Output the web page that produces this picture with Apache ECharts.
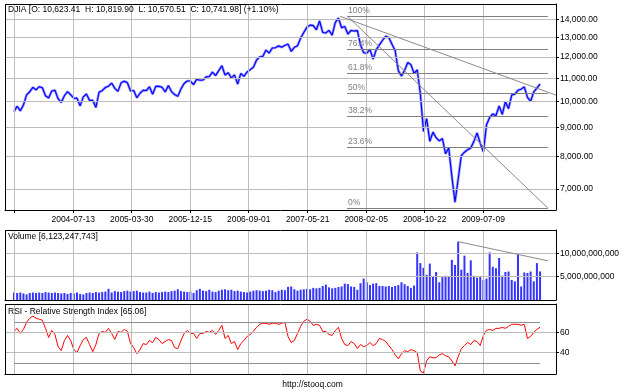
<!DOCTYPE html>
<html>
<head>
<meta charset="utf-8">
<script src="https://cdn.jsdelivr.net/npm/echarts@6/dist/echarts.min.js"></script>
<style>
  html, body { margin: 0; padding: 0; background: #fff; }
  #chart { width: 625px; height: 391px; }
</style>
</head>
<body>
<div id="chart"></div>
<script>
// DJIA weekly, one sample every two weeks from 2003-10-24
const startDate = '2003-10-24'
const stepDays = 14

const closes = [
  9600, 9809, 9629, 9862, 10278, 10409, 10600, 10488, 10628, 10584,
  10240, 10150, 10442, 10472, 10118, 9966, 10242, 10416, 10282, 10139,
  10140, 9825, 10195, 10314, 10047, 10055, 9758, 10388, 10456, 10592,
  10650, 10783, 10558, 10427, 10796, 10870, 10800, 10442, 10461, 10158,
  10345, 10471, 10460, 10623, 10303, 10640, 10641, 10600, 10397, 10679,
  10419, 10292, 10215, 10530, 10766, 10877, 10876, 10718, 10960, 10908,
  10919, 11061, 11077, 11280, 11120, 11347, 11578, 11144, 11248, 11015,
  11150, 10739, 11219, 11088, 11284, 11392, 11508, 11850, 12002, 12031,
  12342, 12194, 12445, 12463, 12556, 12487, 12581, 12647, 12277, 12481,
  12560, 12962, 13264, 13556, 13668, 13639, 13409, 13908, 13266, 13240,
  13379, 13114, 13821, 14067, 13522, 13596, 13177, 13372, 13340, 13366,
  12606, 12207, 12183, 12382, 11894, 12361, 12610, 12849, 13058, 12986,
  12638, 12307, 11347, 11100, 11370, 11734, 11628, 11220, 11388, 10325,
  8852, 9325, 8497, 8829, 8629, 8515, 8599, 8077, 8280, 7365,
  6627, 7279, 8017, 8131, 8212, 8268, 8500, 8799, 8438, 8146,
  9093, 9370, 9505, 9441, 9820, 9488, 9996, 9713, 10270, 10310,
  10471, 10520, 10618, 10173, 10013, 10403, 10567, 10742
]

// volume in billions of shares
const volumeBn = [
  1.6, 1.5, 1.6, 1.4, 1.2, 1.5, 1.6, 1.5, 1.6, 1.5,
  1.7, 1.6, 1.5, 1.6, 1.5, 1.4, 1.5, 1.3, 1.5, 1.4,
  1.6, 1.3, 1.2, 1.5, 1.6, 1.5, 1.7, 1.6, 1.7, 1.8,
  2.4, 1.6, 1.9, 1.8, 1.7, 1.9, 2.0, 1.8, 1.9, 2.0,
  1.7, 1.6, 1.6, 1.8, 1.5, 1.7, 1.6, 1.7, 1.8, 1.7,
  1.9, 2.0, 2.3, 1.9, 1.8, 1.7, 1.8, 1.5, 2.1, 2.4,
  2.0, 1.9, 2.2, 1.8, 1.7, 2.0, 2.2, 2.3, 2.1, 2.2,
  1.9, 2.0, 1.8, 1.7, 1.6, 1.8, 2.0, 2.1, 2.0, 1.9,
  2.0, 2.2, 2.1, 1.7, 2.0, 2.2, 2.1, 2.8, 2.9, 2.3,
  2.0, 2.2, 2.3, 2.4, 2.3, 2.6, 2.5, 2.6, 3.0, 3.3,
  2.7, 2.5, 2.6, 2.8, 2.9, 3.5, 3.4, 2.9, 2.8, 2.2,
  3.6, 4.6, 3.8, 3.2, 3.5, 3.6, 3.0, 3.0, 2.9, 3.0,
  2.8, 3.0, 3.2, 3.8, 3.4, 3.0, 2.6, 3.1, 10.2, 7.9,
  6.9, 5.4, 7.8, 5.0, 6.0, 3.8, 4.9, 5.2, 5.1, 8.6,
  7.5, 12.5, 6.5, 9.5, 5.8, 8.5, 5.2, 4.8, 5.0, 4.3,
  4.6, 10.2, 7.1, 6.8, 9.0, 5.2, 6.0, 6.1, 4.3, 4.0,
  9.8, 2.9, 5.9, 5.8, 6.1, 4.0, 7.9, 6.12
]

const rsi = [
  61, 64, 59, 63, 70, 74, 76, 74, 73, 72,
  64, 55, 62, 58, 46, 42, 52, 57, 52, 43,
  40, 47, 53, 55, 48, 41, 48, 59, 61, 60,
  64, 59, 53, 61, 60, 63, 61, 49, 45, 39,
  43, 49, 48, 52, 50, 55, 53, 49, 51, 53,
  52, 45, 44, 52, 59, 62, 59, 59, 54, 59,
  59, 61, 60, 62, 58, 62, 67, 54, 57, 49,
  51, 43, 49, 52, 56, 58, 61, 65, 68, 69,
  69, 68, 69, 69, 68, 69, 70, 56, 50, 52,
  59, 66, 71, 73, 71, 67, 68, 67, 61, 61,
  58, 57, 62, 65, 54, 48, 47, 51, 49, 44,
  48, 46, 47, 50, 47, 49, 54, 53, 51, 47,
  43, 38, 34, 39, 42, 41, 43, 42, 40, 22,
  20, 32, 36, 35, 35, 38, 39, 37, 36, 32,
  27, 36, 44, 47, 50, 48, 52, 51, 47, 57,
  62, 63, 62, 64, 64, 65, 64, 66, 68, 68,
  68, 67, 68, 54, 56, 60, 63, 65.06
]

// vertical grid lines; the first one carries no label
const gridDates = ['2003-10-27', '2004-07-13', '2005-03-30', '2005-12-15', '2006-09-01',
  '2007-05-21', '2008-02-05', '2008-10-22', '2009-07-09']
const priceTicks = [7000, 8000, 9000, 10000, 11000, 12000, 13000, 14000]
const volumeTicks = [5, 10]
const rsiTicks = [40, 60]
const rsiBands = [30, 70]

// fibonacci retracement of the 2007-2009 fall
const fibLevels = [14198.10, 12374.2, 11245.9, 10334.0, 9422.1, 8293.8, 6469.95]
const fibNames = ['100%', '76.4%', '61.8%', '50%', '38.2%', '23.6%', '0%']
const fibFrom = 105.7
const fibTo = 169.5
// trend lines: [x, value] pairs, x in sample steps
const priceTrends = [
  [[103.5, 14172], [172.06, 10265]],
  [[105.7, 14198], [169.5, 6470]]
]
const volumeTrend = [[141, 12.5], [169.5, 8.4]]

const xMin = -2.857
const xMax = 172.06
const panels = [
  { yMin: 6420, yMax: 14900, ticks: priceTicks },
  { yMin: 0, yMax: 15, ticks: volumeTicks },
  { yMin: 19, yMax: 88, ticks: rsiTicks }
]
const font = '"Liberation Sans", Arial, sans-serif'
const fs = 8.5
const gridColor = '#bcbcbc'

const toIndex = d => (Date.parse(d) - Date.parse(startDate)) / (stepDays * 86400000)
const gridPos = gridDates.map(toIndex)
const labelPos = gridPos.slice(1)
const labelFor = v => {
  const k = labelPos.findIndex(p => Math.abs(p - v) < 1e-6)
  return k < 0 ? '' : gridDates[k + 1]
}

const priceData = closes.map((v, i) => [i, v])
const volumeData = volumeBn.map((v, i) => [i, v])
const rsiData = rsi.map((v, i) => [i, v])
const panelData = [priceData, volumeData, rsiData]

const gridStyle = { show: false, outerBoundsMode: 'none', containLabel: false }

const xAxisFor = (gi, withLabels) => ({
  type: 'value', gridIndex: gi, min: xMin, max: xMax,
  axisLine: { show: true, onZero: false, lineStyle: { color: '#000' } },
  axisTick: { show: withLabels, customValues: gridPos, length: 3, lineStyle: { color: '#000' } },
  axisLabel: {
    show: withLabels, customValues: labelPos, formatter: labelFor,
    margin: 5, fontSize: fs, color: '#000', fontFamily: font
  },
  splitLine: { show: false }
})

const yAxisFor = (gi, type, fmt) => ({
  type, gridIndex: gi, position: 'right',
  min: panels[gi].yMin, max: panels[gi].yMax,
  axisLine: { show: true, onZero: false, lineStyle: { color: '#000' } },
  axisTick: { show: true, customValues: panels[gi].ticks, length: 3, lineStyle: { color: '#000' } },
  axisLabel: {
    customValues: panels[gi].ticks, formatter: fmt, margin: 4,
    fontSize: fs, color: '#000', fontFamily: font
  },
  splitLine: { show: false }
})

// light grid plus top and left frame, carried by an invisible copy of the panel data
const gridSeries = gi => {
  const p = panels[gi]
  const vertical = gridPos.map(x => [{ coord: [x, p.yMin] }, { coord: [x, p.yMax] }])
  const horizontal = p.ticks.map(v => [{ coord: [xMin, v] }, { coord: [xMax, v] }])
  const frame = [
    [{ coord: [xMin, p.yMax], lineStyle: { color: '#000' } }, { coord: [xMax, p.yMax] }],
    [{ coord: [xMin, p.yMin], lineStyle: { color: '#000' } }, { coord: [xMin, p.yMax] }]
  ]
  return {
    type: 'line', xAxisIndex: gi, yAxisIndex: gi, data: panelData[gi], z: 1, silent: true,
    showSymbol: false, lineStyle: { opacity: 0 },
    markLine: {
      silent: true, symbol: ['none', 'none'], animation: false,
      lineStyle: { color: gridColor, width: 1, type: 'solid' },
      label: { show: false },
      data: vertical.concat(horizontal, frame)
    }
  }
}

const fmtPrice = v => v.toLocaleString('en-US', { minimumFractionDigits: 2, maximumFractionDigits: 2 })
const fmtVolume = v => Math.round(v * 1e9).toLocaleString('en-US')

const fibLines = fibLevels.map((lvl, k) => [
  {
    coord: [fibFrom, lvl],
    label: {
      show: true, formatter: fibNames[k], position: 'insideStartTop', distance: 1,
      color: '#808080', fontSize: fs, fontFamily: font
    }
  },
  { coord: [fibTo, lvl] }
])
const trendLines = priceTrends.map(t => [
  { coord: t[0], label: { show: false }, lineStyle: { color: '#8a8a8a', width: 1 } },
  { coord: t[1] }
])

const titleText = (text, left, top) => ({
  text, left, top, padding: 0,
  textStyle: { fontSize: fs, fontWeight: 'normal', color: '#000', fontFamily: font }
})

const chart = echarts.init(document.getElementById('chart'))
chart.setOption({
  animation: false,
  backgroundColor: '#fff',
  title: [
    titleText('DJIA [O: 10,623.41  H: 10,819.90  L: 10,570.51  C: 10,741.98] (+1.10%)', 8, 5),
    titleText('Volume [6,123,247,743]', 8, 232),
    titleText('RSI - Relative Strength Index [65.06]', 8, 307),
    titleText('http://stooq.com', 'center', 380)
  ],
  grid: [
    Object.assign({ left: 5, right: 69, top: 4, height: 206 }, gridStyle),
    Object.assign({ left: 5, right: 69, top: 230, height: 70 }, gridStyle),
    Object.assign({ left: 5, right: 69, top: 304, height: 70 }, gridStyle)
  ],
  xAxis: [xAxisFor(0, true), xAxisFor(1, false), xAxisFor(2, false)],
  yAxis: [
    yAxisFor(0, 'log', fmtPrice),
    yAxisFor(1, 'value', fmtVolume),
    yAxisFor(2, 'value', v => String(v))
  ],
  series: [
    gridSeries(0),
    gridSeries(1),
    gridSeries(2),
    {
      type: 'line', xAxisIndex: 0, yAxisIndex: 0, data: priceData, showSymbol: false, silent: true,
      lineStyle: { color: '#9494ff', width: 2.6 }, z: 2
    },
    {
      type: 'line', xAxisIndex: 0, yAxisIndex: 0, data: priceData, showSymbol: false, silent: true,
      lineStyle: { color: '#0000ff', width: 1.1 }, z: 3,
      markLine: {
        silent: true, symbol: ['none', 'none'], animation: false,
        lineStyle: { color: '#808080', width: 1, type: 'solid' },
        label: { show: false },
        data: fibLines.concat(trendLines)
      }
    },
    {
      type: 'bar', xAxisIndex: 1, yAxisIndex: 1, data: volumeData, barWidth: 2, silent: true,
      itemStyle: { color: '#3535ff' }, z: 2,
      markLine: {
        silent: true, symbol: ['none', 'none'],
        lineStyle: { color: '#8a8a8a', width: 1, type: 'solid' },
        label: { show: false },
        data: [[{ coord: volumeTrend[0] }, { coord: volumeTrend[1] }]]
      }
    },
    {
      type: 'line', xAxisIndex: 2, yAxisIndex: 2, data: rsiData, showSymbol: false, silent: true,
      lineStyle: { color: '#ff0000', width: 1 }, z: 2,
      markLine: {
        silent: true, symbol: ['none', 'none'],
        lineStyle: { color: '#909090', width: 1, type: 'solid' },
        label: { show: false },
        data: rsiBands.map(b => [{ coord: [0, b] }, { coord: [rsi.length - 1, b] }])
      }
    }
  ]
})
</script>
</body>
</html>
